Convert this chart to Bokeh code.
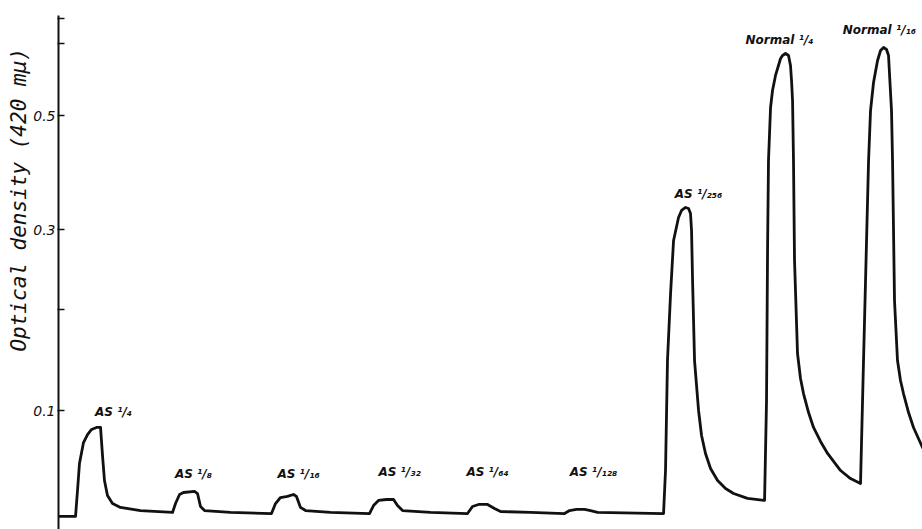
import numpy as np
from bokeh.plotting import figure
from bokeh.models import Range1d, FixedTicker, CustomJSTickFormatter, Title, ColumnDataSource
from bokeh.core.properties import value
from bokeh.embed import file_html
from bokeh.resources import INLINE

# Elution position (arbitrary units, 0 = start of record at the y-axis)
elution = [
    0.0, 1.99, 2.22, 2.45, 2.92, 3.39, 3.86, 4.44, 4.91, 5.14, 5.37, 5.72, 6.31, 7.24, 9.58, 13.32,
    13.67, 14.14, 14.60, 15.89, 16.24, 16.59, 17.06, 20.09, 24.88,
    25.35, 25.93, 26.75, 27.45, 27.80, 28.27, 28.86, 31.78, 36.33,
    36.80, 37.38, 38.32, 39.14, 39.60, 40.19, 43.46, 47.78,
    48.36, 49.07, 50.12, 50.93, 51.64, 55.14, 59.11,
    59.70, 60.51, 61.45, 62.15, 62.97, 70.68,
    70.91, 71.14, 71.50, 71.85, 72.43, 72.78, 73.25, 73.60, 73.83, 73.95, 74.07, 74.30, 74.77, 75.12,
    75.58, 76.17, 76.99, 77.92, 78.86, 80.49, 82.48,
    82.71, 82.83, 82.94, 83.18, 83.41, 83.76, 84.35, 84.58, 84.93, 85.28, 85.51, 85.63, 85.75, 85.86,
    85.98, 86.33, 86.68, 87.03, 87.62, 88.20, 89.02, 89.84, 91.36, 92.52, 93.69,
    94.04, 94.63, 94.86, 95.21, 95.68, 96.03, 96.38, 96.73, 96.96, 97.31, 97.43, 97.66, 98.01, 98.36,
    98.71, 99.30, 99.88, 100.93, 102.45,
]
# Optical density at 420 mμ
optical_density = [
    0.0151, 0.0151, 0.0344, 0.0555, 0.0726, 0.0793, 0.0836, 0.0853, 0.0853, 0.0620, 0.0421, 0.0306, 0.0246, 0.0217, 0.0194, 0.0180,
    0.0246, 0.0314, 0.0329, 0.0337, 0.0321, 0.0224, 0.0194, 0.0180, 0.0172,
    0.0246, 0.0291, 0.0299, 0.0314, 0.0299, 0.0217, 0.0194, 0.0180, 0.0172,
    0.0231, 0.0269, 0.0276, 0.0276, 0.0231, 0.0194, 0.0180, 0.0172,
    0.0224, 0.0239, 0.0239, 0.0209, 0.0187, 0.0180, 0.0172,
    0.0194, 0.0202, 0.0202, 0.0194, 0.0180, 0.0172,
    0.0499, 0.1468, 0.2186, 0.2852, 0.3175, 0.3279, 0.3324, 0.3309, 0.3234, 0.2989, 0.2340, 0.1468, 0.1001, 0.0785,
    0.0636, 0.0515, 0.0421, 0.0359, 0.0321, 0.0284, 0.0269,
    0.1091, 0.2718, 0.4101, 0.5185, 0.5598, 0.6000, 0.6504, 0.6600, 0.6664, 0.6600, 0.6289, 0.5861, 0.5350, 0.4101,
    0.2588, 0.1538, 0.1294, 0.1154, 0.0983, 0.0853, 0.0735, 0.0636, 0.0499, 0.0436, 0.0398,
    0.1468, 0.4101, 0.5115, 0.5808, 0.6442, 0.6763, 0.6865, 0.6797, 0.6600, 0.5115, 0.4101, 0.2105, 0.1468, 0.1275,
    0.1154, 0.0983, 0.0853, 0.0685, 0.0539,
]

# Peak annotations
peak_names = ["AS ¹/₄", "AS ¹/₈", "AS ¹/₁₆", "AS ¹/₃₂", "AS ¹/₆₄", "AS ¹/₁₂₈", "AS ¹/₂₅₆", "Normal ¹/₄", "Normal ¹/₁₆"]
peak_label_x = [6.43, 15.77, 28.04, 39.84, 50.12, 62.50, 74.77, 84.23, 95.9]
peak_label_od = [0.0992, 0.0468, 0.0468, 0.0484, 0.0484, 0.0484, 0.3541, 0.7111, 0.7489]

# Axis ticks (optical density); recorder scale is linear in transmittance
tick_od = [0.1, 0.2, 0.3, 0.5, 0.7, 0.8]
labelled_od = [0.1, 0.3, 0.5]
y_limits_od = [0.00567, 0.8125]
x_limits = [0, 100.93]


def recorder(od):
    return 1.0 - 10.0 ** (-np.asarray(od, dtype=float))


trace = ColumnDataSource(dict(x=elution, y=recorder(optical_density)))
labels = ColumnDataSource(dict(x=peak_label_x, y=recorder(peak_label_od), text=peak_names))

ylim = recorder(y_limits_od)
p = figure(width=922, height=529, output_backend="svg", toolbar_location=None,
           x_range=Range1d(*x_limits), y_range=Range1d(float(ylim[0]), float(ylim[1])),
           x_axis_location=None, min_border_left=58, min_border_right=0,
           min_border_top=15, min_border_bottom=0, outline_line_color=None,
           background_fill_color="white", border_fill_color="white")
p.grid.visible = False

p.line("x", "y", source=trace, line_color="#111111", line_width=2.8, line_join="round")
p.text("x", "y", text="text", source=labels, text_align="center", text_baseline="middle",
       text_font=value("DejaVu Sans"), text_font_style="bold italic", text_font_size="12px",
       text_color="#111111")

ax = p.yaxis[0]
ax.ticker = FixedTicker(ticks=[float(v) for v in recorder(tick_od)], minor_ticks=[])
ax.formatter = CustomJSTickFormatter(args=dict(labelled=labelled_od), code="""
const od = -Math.log10(1 - tick);
for (const v of labelled) { if (Math.abs(od - v) < 1e-6) return v.toFixed(1); }
return '';
""")
ax.axis_line_width = 2
ax.axis_line_color = "#111111"
ax.major_tick_line_width = 1.5
ax.major_tick_line_color = "#111111"
ax.major_tick_in = 6
ax.major_tick_out = 1
ax.major_label_standoff = 2
ax.major_label_text_font = "DejaVu Sans"
ax.major_label_text_font_style = "italic"
ax.major_label_text_font_size = "14px"
ax.major_label_text_color = "#111111"

ylabel = Title(text="Optical  density (420 mμ)", align="right", offset=20,
               text_font="DejaVu Sans Mono", text_font_style="italic",
               text_font_size="21px", text_color="#111111", standoff=0)
p.add_layout(ylabel, "left")

open("out.html", "w").write(file_html(p, INLINE))
